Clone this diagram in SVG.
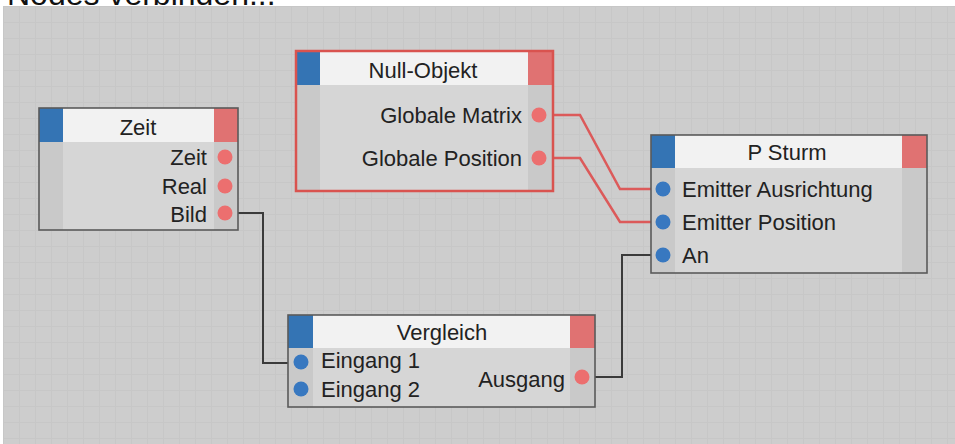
<svg xmlns="http://www.w3.org/2000/svg" width="955" height="444" viewBox="0 0 955 444">
<defs>
<pattern id="grid" x="3" y="6" width="16" height="16" patternUnits="userSpaceOnUse">
<rect width="16" height="16" fill="#cdcdcd"/>
<path d="M0.5,0 V16 M0,0.5 H16" stroke="#c7c7c7" stroke-width="1" fill="none"/>
</pattern>
</defs>
<style>
text{font-family:"Liberation Sans",Arial,sans-serif;font-size:22px;fill:#222}
.t{text-anchor:middle}
.r{text-anchor:end}
.body{fill:#d6d6d6}
.col{fill:#c9c9c9}
.hdr{fill:#f2f2f2}
.blue{fill:#3474b4}
.red{fill:#e07272}
.frame{fill:none;stroke:#5a5a5a;stroke-width:1.6}
.pr{fill:#ec6f6f}
.pb{fill:#3878c0}
.wire{fill:none;stroke:#3a3a3a;stroke-width:2}
.wire-r{fill:none;stroke:#dc5a5a;stroke-width:2.5}
</style>
<rect width="955" height="444" fill="#ffffff"/>
<rect x="3" y="6" width="952" height="438" fill="url(#grid)"/>
<text x="7" y="5" style="font-size:32px;fill:#111">Nodes verbinden...</text>

<g id="connectors">
<path class="wire" d="M232,213 H263 V363 H295"/>
<path class="wire" d="M589,377 H622 V255 H656"/>
<path class="wire-r" d="M546,115 H580 L620,189 H656"/>
<path class="wire-r" d="M546,158 H580 L620,222 H656"/>
</g>

<g id="node-zeit">
<rect class="body" x="39" y="108" width="199" height="122"/>
<rect class="col" x="39" y="142" width="24" height="88"/>
<rect class="col" x="214" y="142" width="24" height="88"/>
<rect class="blue" x="39" y="108" width="24" height="34"/>
<rect class="hdr" x="63" y="108" width="151" height="34"/>
<rect class="red" x="214" y="108" width="24" height="34"/>
<rect class="frame" x="39" y="108" width="199" height="122"/>
<text class="t" x="138" y="135">Zeit</text>
<text class="r" x="207" y="165">Zeit</text>
<text class="r" x="207" y="194">Real</text>
<text class="r" x="207" y="222">Bild</text>
<circle class="pr" cx="225" cy="157" r="7.5"/>
<circle class="pr" cx="225" cy="186" r="7.5"/>
<circle class="pr" cx="225" cy="213" r="7.5"/>
</g>

<g id="node-null-objekt">
<rect class="body" x="296" y="51" width="257" height="140"/>
<rect class="col" x="296" y="85" width="24" height="106"/>
<rect class="col" x="528" y="85" width="25" height="106"/>
<rect class="blue" x="296" y="51" width="24" height="34"/>
<rect class="hdr" x="320" y="51" width="208" height="34"/>
<rect class="red" x="528" y="51" width="25" height="34"/>
<rect x="296" y="51" width="257" height="140" fill="none" stroke="#d9534f" stroke-width="2.5"/>
<text class="t" x="423" y="78">Null-Objekt</text>
<text class="r" x="522" y="123">Globale Matrix</text>
<text class="r" x="522" y="166">Globale Position</text>
<circle class="pr" cx="539" cy="115" r="7.5"/>
<circle class="pr" cx="539" cy="158" r="7.5"/>
</g>

<g id="node-p-sturm">
<rect class="body" x="651" y="135" width="276" height="138"/>
<rect class="col" x="651" y="168" width="24" height="105"/>
<rect class="col" x="902" y="168" width="25" height="105"/>
<rect class="blue" x="651" y="135" width="24" height="33"/>
<rect class="hdr" x="675" y="135" width="227" height="33"/>
<rect class="red" x="902" y="135" width="25" height="33"/>
<rect class="frame" x="651" y="135" width="276" height="138"/>
<text class="t" x="787" y="160">P Sturm</text>
<text x="682" y="197">Emitter Ausrichtung</text>
<text x="682" y="230">Emitter Position</text>
<text x="682" y="263">An</text>
<circle class="pb" cx="663" cy="189" r="7.5"/>
<circle class="pb" cx="663" cy="222" r="7.5"/>
<circle class="pb" cx="663" cy="255" r="7.5"/>
</g>

<g id="node-vergleich">
<rect class="body" x="288" y="315" width="307" height="92"/>
<rect class="col" x="288" y="348" width="25" height="59"/>
<rect class="col" x="570" y="348" width="25" height="59"/>
<rect class="blue" x="288" y="315" width="25" height="33"/>
<rect class="hdr" x="313" y="315" width="257" height="33"/>
<rect class="red" x="570" y="315" width="25" height="33"/>
<rect class="frame" x="288" y="315" width="307" height="92"/>
<text class="t" x="442" y="340">Vergleich</text>
<text x="321" y="368">Eingang 1</text>
<text x="321" y="397">Eingang 2</text>
<text class="r" x="565" y="387">Ausgang</text>
<circle class="pb" cx="301" cy="362" r="7.5"/>
<circle class="pb" cx="301" cy="389" r="7.5"/>
<circle class="pr" cx="582" cy="377" r="7.5"/>
</g>
</svg>
